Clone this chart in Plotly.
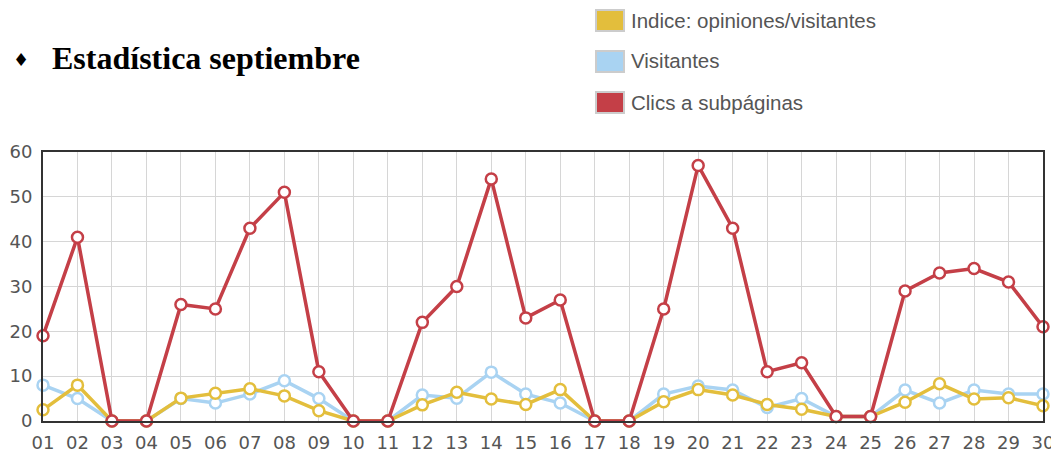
import plotly.graph_objects as go

dias = ["%02d" % d for d in range(1, 31)]
clics = [19, 41, 0, 0, 26, 25, 43, 51, 11, 0, 0, 22, 30, 54, 23, 27, 0, 0, 25, 57, 43, 11, 13, 1, 1, 29, 33, 34, 31, 21]
visitantes = [8, 5, 0, 0, 5, 4, 6, 9, 5, 0, 0, 5.8, 5.1, 10.9, 6, 4, 0, 0, 6, 7.8, 6.9, 3, 5, 1, 1, 6.9, 4, 6.9, 6, 6]
indice = [2.5, 8, 0, 0, 5.1, 6.2, 7.2, 5.6, 2.3, 0, 0, 3.6, 6.4, 4.9, 3.7, 7, 0, 0, 4.3, 7, 5.8, 3.7, 2.6, 1, 1, 4.2, 8.3, 4.9, 5.2, 3.4]

nombres = ["Indice: opiniones/visitantes", "Visitantes", "Clics a subpáginas"]
colores = ["#E3BE3C", "#A9D3F2", "#C43F47"]
series = [indice, visitantes, clics]

# page body has an 8px margin, so the figure is a bit smaller than the window
W, H = 1051, 445
L, R, T, B = 35, 16, 144, 32

# screen pixel -> paper coords (plot area spans x 43..1043, y 152..421 on screen)
def px(x):
    return (x - 43) / 1000

def py(y):
    return (421 - y) / 269

fig = go.Figure()
# draw blue first, then yellow, red on top
for i in [1, 0, 2]:
    fig.add_trace(go.Scatter(
        x=list(range(30)), y=series[i], mode="lines+markers", name=nombres[i],
        line=dict(color=colores[i], width=3.5),
        marker=dict(symbol="circle", size=11, color="white", line=dict(color=colores[i], width=2.5)),
        showlegend=False, cliponaxis=False))

fig.update_xaxes(range=[0, 29], tickvals=list(range(30)), ticktext=dias,
                 showgrid=True, gridcolor="#d6d6d6", gridwidth=1,
                 showline=True, linecolor="#333", linewidth=2, mirror=True,
                 ticks="", zeroline=False, automargin=False, ticklabelstandoff=4,
                 tickfont=dict(family="DejaVu Sans", size=18, color="#555"))
fig.update_yaxes(range=[0, 60], tickvals=[0, 10, 20, 30, 40, 50, 60],
                 showgrid=True, gridcolor="#d6d6d6", gridwidth=1,
                 showline=True, linecolor="#333", linewidth=2, mirror=True,
                 ticks="", zeroline=False, automargin=False, ticklabelstandoff=5,
                 tickfont=dict(family="DejaVu Sans", size=18, color="#555"))

# legend drawn as boxes + labels
for k in range(3):
    fig.add_shape(type="rect", xref="paper", yref="paper",
                  x0=px(596), x1=px(624), y0=py(31 + 41 * k), y1=py(10 + 41 * k),
                  fillcolor=colores[k], line=dict(color="#cccccc", width=2))
    fig.add_annotation(xref="paper", yref="paper", x=px(629), y=py(20 + 41 * k),
                       text=nombres[k], showarrow=False, xanchor="left", yanchor="middle",
                       font=dict(family="Liberation Sans", size=20.5, color="#555"))

fig.add_annotation(xref="paper", yref="paper", x=px(11), y=py(59), text="♦",
                   showarrow=False, xanchor="left", yanchor="middle",
                   font=dict(family="DejaVu Sans", size=18, color="black"))
fig.add_annotation(xref="paper", yref="paper", x=px(50), y=py(58),
                   text="<b>Estadística septiembre</b>",
                   showarrow=False, xanchor="left", yanchor="middle",
                   font=dict(family="Liberation Serif", size=32, color="black"))

fig.update_layout(width=W, height=H, plot_bgcolor="white", paper_bgcolor="white",
                  margin=dict(l=L, r=R, t=T, b=B))
fig.write_html("out.html")
